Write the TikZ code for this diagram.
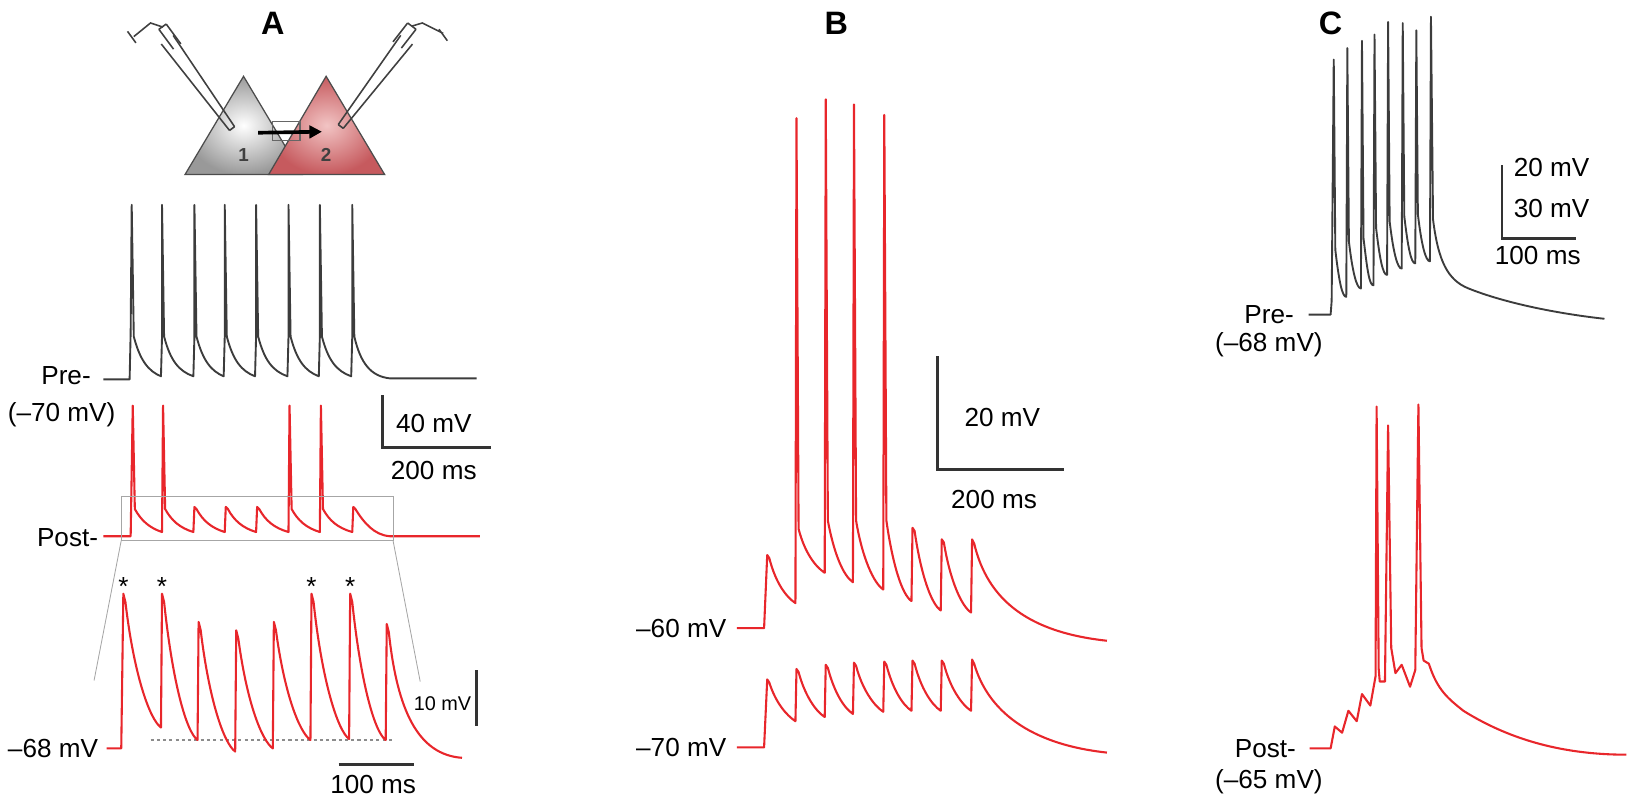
\documentclass[tikz,border=0pt]{standalone}
\usepackage{fontspec}
\setmainfont{Liberation Sans}
\usetikzlibrary{arrows.meta}
\definecolor{tr}{HTML}{E8262B}
\definecolor{pg}{HTML}{3C3C3C}
\definecolor{nred}{HTML}{C65A5E}
\definecolor{nredl}{HTML}{F2C4C4}
\tikzset{
  pretr/.style={draw=pg,line width=1.8pt,line join=round},
  posttr/.style={draw=tr,line width=2pt,line join=round},
  lbl/.style={font=\fontsize{25}{28}\selectfont,inner sep=0pt},
  small/.style={font=\fontsize{19}{22}\selectfont,inner sep=0pt},
  panel/.style={font=\fontsize{31}{34}\selectfont\bfseries,inner sep=0pt},
  bar/.style={draw=black!80,line width=3pt},
  pip/.style={draw=black!75,line width=1.5pt}
}
\begin{document}
\begin{tikzpicture}[x=1pt,y=-1pt]
\useasboundingbox (0,0) rectangle (1569,768);
% panel letters
\node[panel] (pa) at (261,22) {A};
\node[panel] (pb) at (800,22) {B};
\node[panel] (pc) at (1273,22) {C};
% neurons
\shade[inner color=white,outer color=black!40,draw=black!70,line width=1.2pt] (177,167) -- (233,73) -- (289,167) -- cycle;
\shade[inner color=nredl,outer color=nred,draw=black!70,line width=1.2pt] (257,167) -- (312,73) -- (368,167) -- cycle;
\node[font=\fontsize{18}{20}\selectfont\bfseries,text=black!75] (n1) at (233,148) {1};
\node[font=\fontsize{18}{20}\selectfont\bfseries,text=black!75] (n2) at (312,148) {2};
\draw[black!60,line width=1pt] (261,116) rectangle (287,134);
\draw[-{Triangle[length=12pt,width=12pt]},line width=3.5pt] (247,127) -- (308,126);
% pipettes
\draw[pip] (219.6,124.8) -- (154.3,42.1) (224.4,121.2) -- (165.7,33.9) (219.6,124.8) -- (224.4,121.2);
\draw[pip] (166,47) -- (152,28) (173,42) -- (159,23) (152,28) -- (159,23);
\draw[pip] (156,26) -- (144,22) -- (128,35) (122,30) -- (130,41);
\draw[pip] (323.6,119.2) -- (383.4,33.8) (328.4,122.8) -- (394.6,42.2) (323.6,119.2) -- (328.4,122.8);
\draw[pip] (376,40) -- (390,22) (384,46) -- (398,28) (390,22) -- (398,28);
\draw[pip] (394,25) -- (404,22) -- (424,32) (420,28) -- (428,39);
% A pre trace
\draw[pretr] (99,363) -- (124,363) -- (125,318)
  foreach \x/\n in {126/155,155/186,186/215,215/245,245/276,276/306,306/337} {
   -- (\x,196) -- (\x+2,322) .. controls (\x+8,345) and (\x+16,355) .. (\n-1,360) -- (\n,322) }
  -- (337,196) -- (339,322) .. controls (345,348) and (355,360) .. (373,362) -- (456,362);
\node[lbl,anchor=east] (prea) at (87,359) {Pre-};
\node[lbl] (prev) at (59,397) {(–70 mV)};
% A scale bar 1
\draw[bar] (366,378) -- (366,428) -- (470,428);
\node[lbl] (s40) at (415,405) {40 mV};
\node[lbl] (s200) at (415,450) {200 ms};
% A post trace
\draw[posttr] (99,513) -- (125,513)
  foreach \x/\p/\n in {127/388/156,156/388/186,186/485/216,216/485/246,246/485/277,277/388/307,307/388/338} {
   -- (\x,\p) -- (\x+2,487) .. controls (\x+8,498) and (\x+16,505) .. (\n-1,509) }
  -- (338,485) -- (340,487) .. controls (348,500) and (358,512) .. (373,513) -- (459,513);
\node[lbl,anchor=east] (posta) at (94,514) {Post-};
% zoom box
\draw[black!35,line width=0.8pt] (116,475) rectangle (376,517);
\draw[black!35,line width=0.8pt] (116,517) -- (90,651) (376,517) -- (402,652);
% A expanded trace
\draw[black!45,dashed,line width=1.2pt] (144,708) -- (375,708);
\draw[posttr] (102,716) -- (116,716)
  foreach \x/\p/\t/\n in {118/568/696/155,155/568/708/190,190/595/719/226,226/603/716/262,262/595/708/298,298/568/707/335,335/568/708/370} {
   -- (\x,\p) -- (\x+2,\p+8) .. controls (\x+10,{\p+0.6*(\t-\p)}) and (\n-12,\t-8) .. (\n-1,\t) }
  -- (370,597) -- (372,605) .. controls (380,680) and (400,722) .. (442,725);
\foreach \x [count=\i] in {118,155,298,335} \node[lbl] (st\i) at (\x,561) {*};
\node[lbl,anchor=east] (m68) at (94,716) {–68 mV};
\draw[bar] (456,641) -- (456,695);
\node[small,anchor=east] (s10) at (451,673) {10 mV};
\draw[bar] (324,731) -- (396,731);
\node[lbl] (s100) at (357,751) {100 ms};
% B top
\draw[posttr] (705,601) -- (731,601)
  foreach \x/\p/\k/\t/\n in {734/531/534/577/762,762/113/506/548/790,790/95/498/557/817,817/100/498/564/846,846/110/498/575/873,873/505/508/584/901,901/516/519/586/930} {
   -- (\x,\p) -- (\x+2,\k) .. controls (\x+8,{\k+0.55*(\t-\k)}) and (\n-10,\t-6) .. (\n-1,\t) }
  -- (930,516) -- (932,520) .. controls (945,575) and (985,605) .. (1059,613);
% B bottom
\draw[posttr] (705,715) -- (731,715)
  foreach \x/\p/\t/\n in {734/650/690/762,762/640/686/790,790/636/683/817,817/634/681/846,846/633/680/873,873/632/680/901,901/632/680/930} {
   -- (\x,\p) -- (\x+2,\p+3) .. controls (\x+8,{\p+0.55*(\t-\p)}) and (\n-10,\t-6) .. (\n-1,\t) }
  -- (930,631) -- (932,635) .. controls (945,680) and (985,712) .. (1059,720);
\node[lbl,anchor=east] (m60) at (695,601) {–60 mV};
\node[lbl,anchor=east] (m70) at (695,715) {–70 mV};
\draw[bar] (897,341) -- (897,449) -- (1018,449);
\node[lbl] (b20) at (959,399) {20 mV};
\node[lbl] (b200) at (951,478) {200 ms};
% C top
\draw[pretr] (1252,301) -- (1273,301) -- (1274,288)
  foreach \x/\p/\t/\n in {1276/57/284/1289,1289/46/276/1303,1303/39/273/1315,1315/33/263/1328,1328/21/257/1342,1342/22/252/1355,1355/29/250/1369} {
   -- (\x,\p) -- (\x+1.5,\t-45) .. controls (\x+5,\t-15) and (\n-5,\t) .. (\n-1,\t) }
  -- (1369,16) -- (1371,210) .. controls (1376,250) and (1385,268) .. (1405,276) .. controls (1440,290) and (1490,300) .. (1535,305);
\node[lbl,anchor=east] (prec) at (1238,301) {Pre-};
\node[lbl] (precv) at (1214,330) {(–68 mV)};
\draw[bar,line width=2.5pt] (1437,158) -- (1437,228) -- (1508,228);
\node[lbl,anchor=west] (c20) at (1448,160) {20 mV};
\node[lbl,anchor=west] (c30) at (1448,199) {30 mV};
\node[lbl,anchor=west] (c100) at (1430,244) {100 ms};
% C bottom
\draw[posttr] (1253,716) -- (1273,716) -- (1277,695) -- (1284,701) -- (1290,680) -- (1298,690) -- (1303,664) -- (1311,675) -- (1316,647)
  -- (1317,389) -- (1319,640) -- (1320,652) -- (1325,652) -- (1328,407) -- (1331,620) -- (1335,644) -- (1341,636) -- (1349,657) -- (1354,641)
  -- (1357,387) -- (1360,620) -- (1362,632) -- (1367,635) .. controls (1375,660) and (1385,668) .. (1400,680) .. controls (1440,705) and (1490,722) .. (1556,722);
\node[lbl,anchor=east] (postc) at (1240,716) {Post-};
\node[lbl] (postcv) at (1214,748) {(–65 mV)};
\end{tikzpicture}
\end{document}
